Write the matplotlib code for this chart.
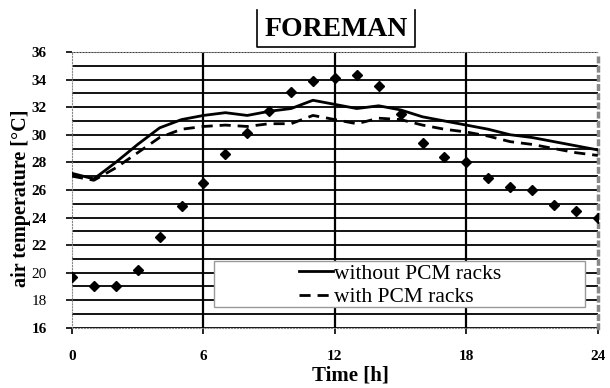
import numpy as np
import matplotlib.pyplot as plt
from matplotlib.lines import Line2D
from matplotlib.patches import Rectangle

# datos
hours = list(range(0, 25))
outdoor = [19.7, 19.0, 19.0, 20.2, 22.6, 24.8, 26.5, 28.6, 30.1, 31.7, 33.1, 33.9, 34.1,
           34.3, 33.5, 31.5, 29.4, 28.4, 28.0, 26.9, 26.2, 26.0, 24.9, 24.5, 24.0]
without_pcm = [27.2, 26.8, 28.0, 29.3, 30.5, 31.1, 31.4, 31.6, 31.4, 31.7, 31.9, 32.5, 32.2,
               31.9, 32.1, 31.8, 31.3, 31.0, 30.7, 30.4, 30.0, 29.8, 29.5, 29.2, 28.9]
with_pcm = [27.0, 26.7, 27.6, 28.7, 29.8, 30.4, 30.6, 30.7, 30.6, 30.8, 30.8, 31.4, 31.1,
            30.8, 31.2, 31.1, 30.7, 30.4, 30.2, 29.9, 29.5, 29.3, 29.0, 28.7, 28.5]
xticks = [0, 6, 12, 18, 24]
yticks = list(range(16, 37, 2))

serif = ['Liberation Serif', 'DejaVu Serif']
plt.rcParams['font.family'] = serif

fig = plt.figure(figsize=(6.1, 3.88), dpi=100)
ax = fig.add_axes([0.118, 0.155, 0.862, 0.711])

# rejilla
for y in range(16, 37):
    ax.axhline(y, color='black', lw=1.3, zorder=1)
for x in [6, 12, 18]:
    ax.axvline(x, color='black', lw=1.6, zorder=1)

ax.plot(hours, without_pcm, color='black', lw=2, zorder=3)
ax.plot(hours, with_pcm, color='black', lw=2, ls=(0, (4, 2.5)), zorder=3)
ax.plot(hours, outdoor, ls='none', marker='D', ms=5.5, color='black', zorder=4)

ax.set_xlim(0, 24)
ax.set_ylim(16, 36)
ax.set_xticks(xticks)
ax.set_yticks(yticks)
ax.set_xticklabels([str(t) for t in xticks], fontsize=11, fontweight='bold')
ax.set_yticklabels([str(t) for t in yticks], fontsize=11, fontweight='bold')
for lab in ax.get_yticklabels():
    if lab.get_text() in ('18', '20'):
        lab.set_fontweight('normal')
ax.tick_params(axis='x', length=4, width=1.2, pad=12)
ax.tick_params(axis='y', length=4, width=1.2, pad=14)
for s in ax.spines.values():
    s.set_color('#888888')
    s.set_linestyle(':')
ax.spines['right'].set_linewidth(2.5)

ax.set_xlabel('Time [h]', fontsize=15, fontweight='bold')
ax.xaxis.set_label_coords(0.529, -0.135)
ax.set_ylabel('air temperature [°C]', fontsize=14.5, fontweight='bold')
ax.yaxis.set_label_coords(-0.078, 0.47)

# cuadro de la leyenda
ax.add_patch(Rectangle((6.5, 17.5), 16.9, 3.35, facecolor='white', edgecolor='#999999',
                       lw=1, zorder=5))
handles = [Line2D([0], [0], color='black', lw=2),
           Line2D([0], [0], color='black', lw=2, ls=(0, (4, 2.5)))]
leg = ax.legend(handles, ['without PCM racks', 'with PCM racks'],
                loc='upper left', bbox_to_anchor=(10.25, 20.8),
                bbox_transform=ax.transData, fontsize=15.5, frameon=False,
                handlelength=1.6, handletextpad=0.05, borderpad=0.1,
                labelspacing=0.15, borderaxespad=0)
leg.set_zorder(6)

# titulo con marco abierto arriba
fig.text(336 / 610, 1 - 29 / 388, 'FOREMAN', ha='center', va='center', fontsize=20,
         fontweight='bold')
x0, x1 = 257 / 610, 415 / 610
y0, y1 = 1 - 47 / 388, 1 - 10 / 388
fig.add_artist(Line2D([x0, x0, x1, x1], [y1, y0, y0, y1], color='black', lw=1.2,
                      transform=fig.transFigure))

fig.savefig('out.png', dpi=100)
